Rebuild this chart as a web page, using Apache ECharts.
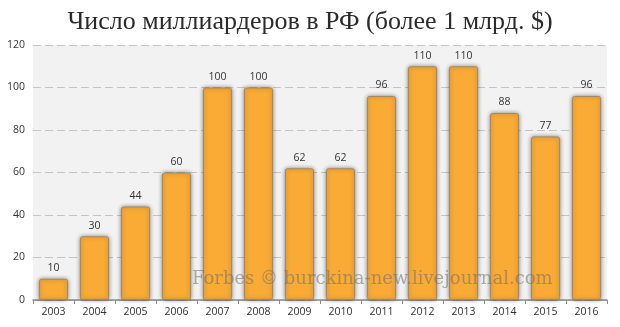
<!DOCTYPE html>
<html>
<head>
<meta charset="utf-8">
<script src="https://cdn.jsdelivr.net/npm/echarts@6/dist/echarts.min.js"></script>
<style>
  html, body { margin: 0; padding: 0; background: #ffffff; }
  #chart { width: 620px; height: 327px; }
</style>
</head>
<body>
<div id="chart"></div>
<script>
// Number of Russian billionaires by year
const years = ['2003', '2004', '2005', '2006', '2007', '2008', '2009', '2010', '2011', '2012', '2013', '2014', '2015', '2016'];
const billionaires = [10, 30, 44, 60, 100, 100, 62, 62, 96, 110, 110, 88, 77, 96];
const yTicks = [0, 20, 40, 60, 80, 100, 120];

const chart = echarts.init(document.getElementById('chart'), null, { renderer: 'canvas' });

chart.setOption({
  animation: false,
  backgroundColor: '#ffffff',
  title: {
    text: 'Число миллиардеров в РФ (более 1 млрд. $)',
    left: 'center',
    top: 4,
    textStyle: {
      fontFamily: 'Liberation Serif',
      fontWeight: 'normal',
      fontSize: 26,
      color: '#2b2b2b'
    }
  },
  grid: {
    left: 33,
    right: 13,
    top: 45,
    bottom: 27,
    show: true,
    backgroundColor: '#f2f2f2',
    borderWidth: 0
  },
  xAxis: {
    type: 'category',
    data: years,
    axisLine: { show: true, lineStyle: { color: '#8c8c8c', width: 1.5 } },
    axisTick: { show: true, alignWithLabel: false, length: 4, lineStyle: { color: '#8c8c8c' } },
    axisLabel: { color: '#333333', fontSize: 10.5, fontFamily: 'Open Sans', margin: 7 }
  },
  yAxis: {
    type: 'value',
    min: yTicks[0],
    max: yTicks[yTicks.length - 1],
    interval: 20,
    axisLine: { show: false },
    axisTick: { show: false },
    axisLabel: { color: '#333333', fontSize: 10.5, fontFamily: 'Open Sans', margin: 8 },
    splitLine: { lineStyle: { color: '#c4c4c4', type: [8, 4], width: 1 } }
  },
  series: [{
    type: 'bar',
    data: billionaires,
    barCategoryGap: '29%',
    itemStyle: {
      color: '#f9ab35',
      borderColor: 'rgba(150,130,100,0.8)',
      borderWidth: 1,
      borderRadius: 2,
      shadowColor: 'rgba(0,0,0,0.45)',
      shadowBlur: 4,
      shadowOffsetX: 0,
      shadowOffsetY: 0
    },
    label: {
      show: true,
      position: 'top',
      distance: 5,
      color: '#333333',
      fontSize: 10.5,
      fontFamily: 'Open Sans'
    }
  }],
  graphic: [{
    type: 'text',
    left: 192,
    top: 270,
    z: 100,
    style: {
      text: 'Forbes © burckina-new.livejournal.com',
      font: '18px "DejaVu Serif"',
      fill: 'rgba(110,110,110,0.55)'
    }
  }]
});
</script>
</body>
</html>
